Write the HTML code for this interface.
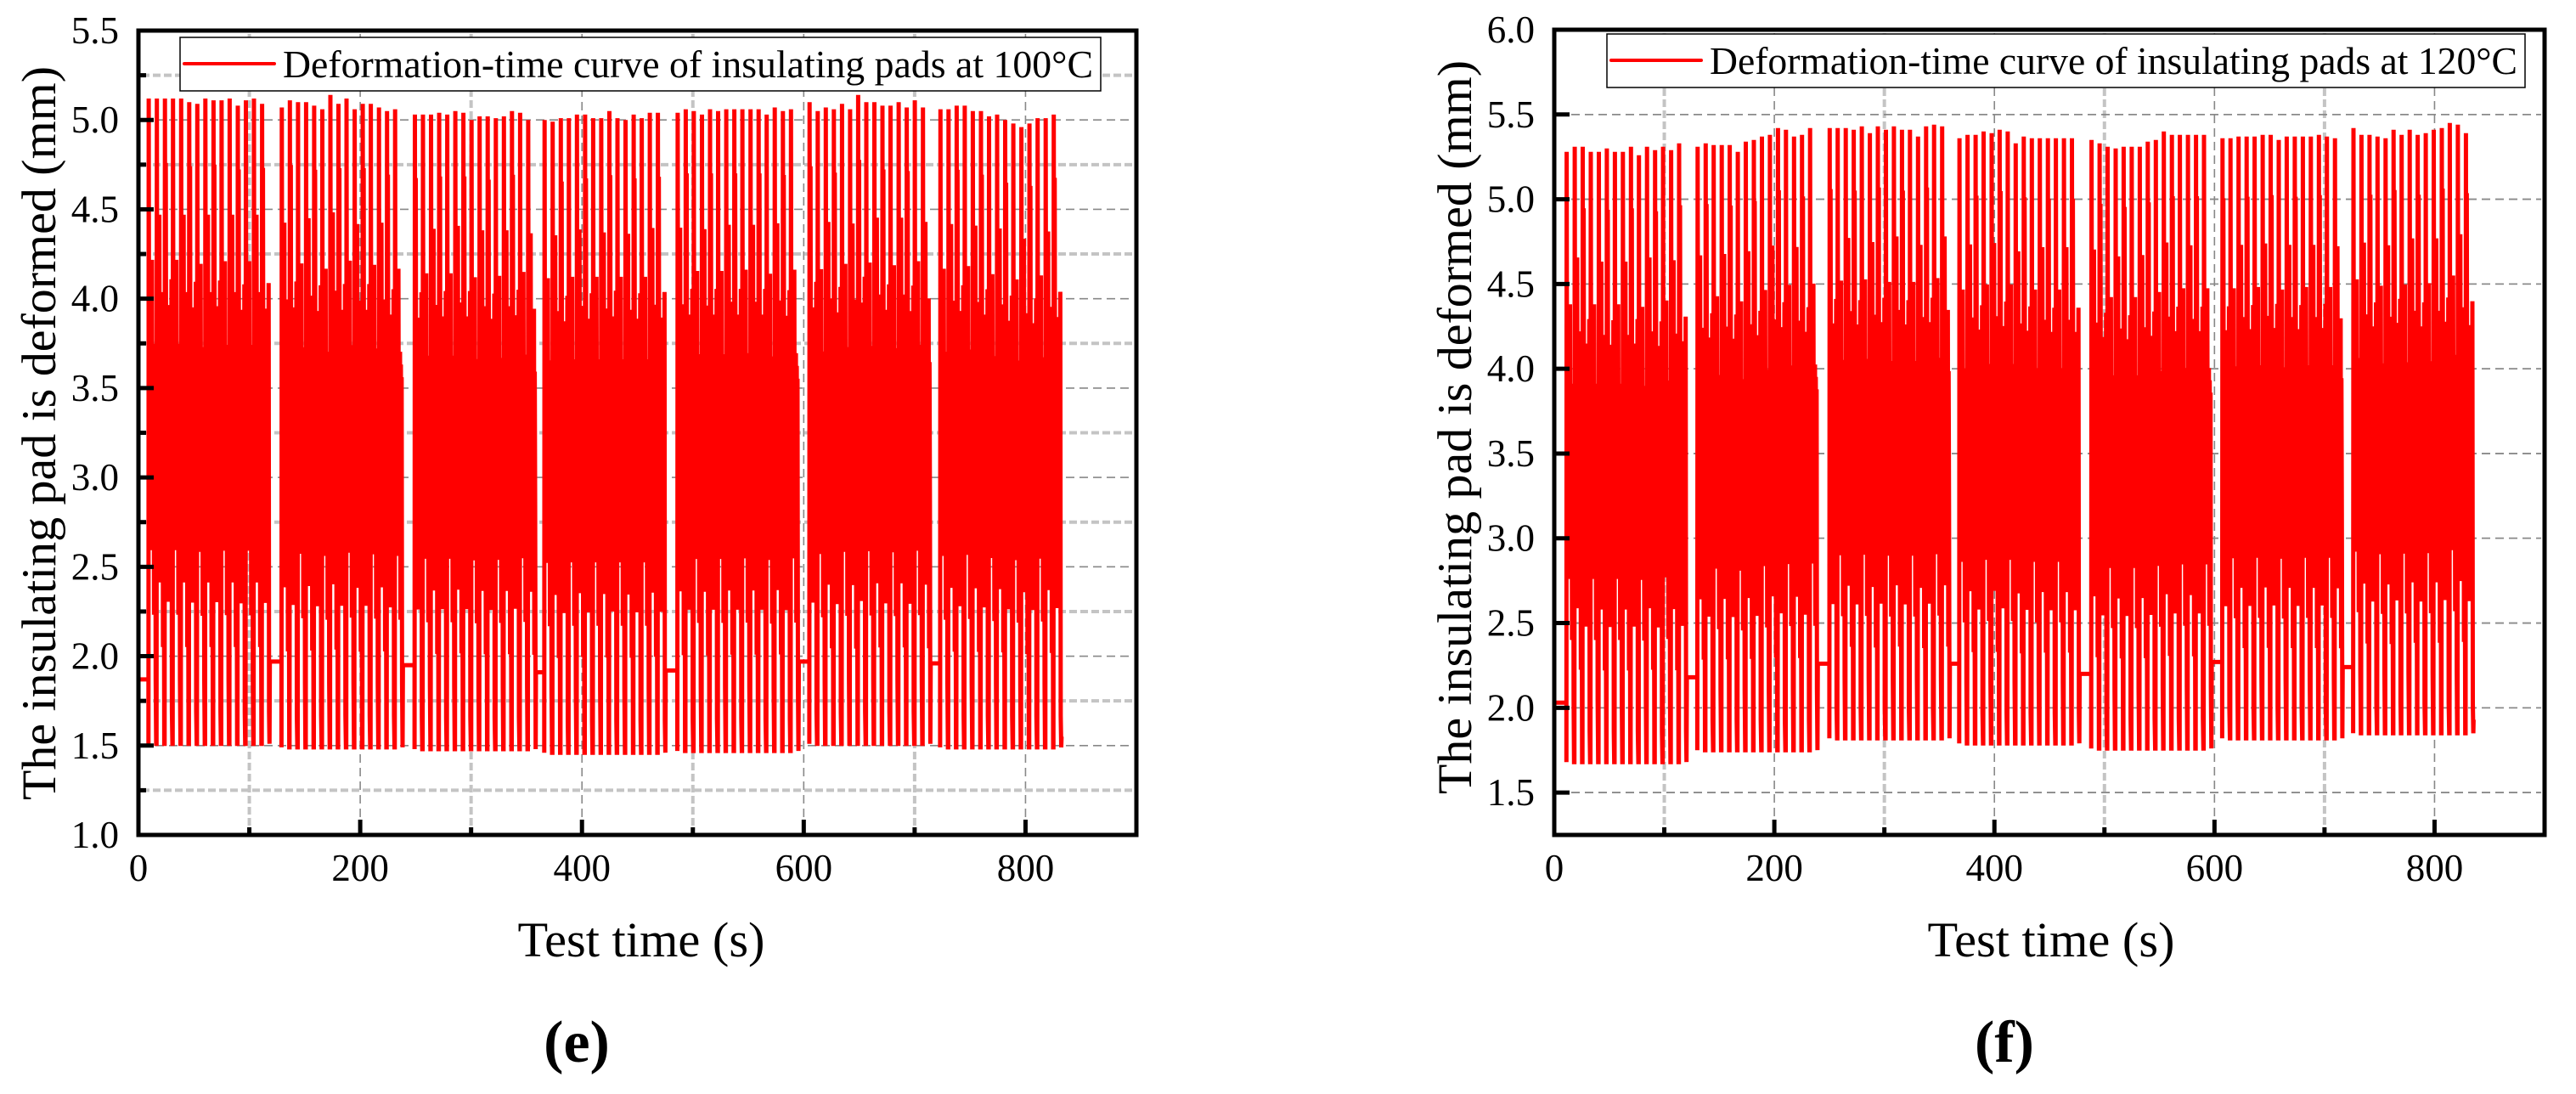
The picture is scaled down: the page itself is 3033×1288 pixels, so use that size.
<!DOCTYPE html>
<html><head><meta charset="utf-8">
<style>
html,body{margin:0;padding:0;background:#fff;}
svg{display:block;font-family:"Liberation Serif","Times New Roman",serif;}
text{font-family:"Liberation Serif","Times New Roman",serif;fill:#000;}
</style></head>
<body>
<svg id="fig" width="3033" height="1288" viewBox="0 0 3033 1288" xmlns="http://www.w3.org/2000/svg" font-family="Liberation Serif, serif">
<g id="chartE"></g>
<g id="chartF"></g>
</svg>
<script>
// ---------- Chart (e) data: 100°C ----------
const eBlockStarts = [9, 129, 249, 366, 486, 605, 723];
const eFlatLevels = [1.87, 1.97, 1.95, 1.91, 1.92, 1.97, 1.96];
const eTroughs = [1.51, 1.49, 1.48, 1.46, 1.47, 1.51, 1.49];
const eEndValue = 1.55;
const ePeaks1 = [5.12,5.12,5.12,5.12,5.12,5.10,5.09,5.12,5.11,5.11,5.12,5.08,5.11,5.12,5.09];
const ePeaks2 = [5.07,5.11,5.10,5.10,5.08,5.06,5.14,5.09,5.12,5.06,5.09,5.09,5.07,5.05,5.06];
const ePeaks3 = [5.03,5.03,5.03,5.04,5.03,5.05,5.04,5.00,5.02,5.02,5.01,5.02,5.05,5.04,5.00];
const ePeaks4 = [5.00,4.99,5.01,5.01,5.03,5.03,5.01,5.01,5.05,5.01,5.00,5.03,5.01,5.04,5.04];
const ePeaks5 = [5.04,5.06,5.05,5.03,5.06,5.05,5.06,5.06,5.06,5.06,5.06,5.03,5.07,5.05,5.06];
const ePeaks6 = [5.10,5.05,5.07,5.06,5.09,5.06,5.14,5.10,5.10,5.08,5.08,5.10,5.07,5.11,5.07];
const ePeaks7 = [5.06,5.06,5.08,5.08,5.05,5.05,5.02,5.03,5.00,4.98,4.96,4.98,5.01,5.01,5.03];
const eYTicks = ["1.0","1.5","2.0","2.5","3.0","3.5","4.0","4.5","5.0","5.5"];
// ---------- Chart (f) data: 120°C ----------
const fBlockStarts = [11, 130, 250, 368, 488, 607, 726];
const fFlatLevels = [2.03, 2.18, 2.26, 2.26, 2.20, 2.27, 2.24];
const fTroughs = [1.68, 1.75, 1.82, 1.79, 1.76, 1.82, 1.85];
const fEndValue = 1.93;
const fPeaks1 = [5.28,5.31,5.31,5.28,5.28,5.30,5.28,5.28,5.31,5.26,5.31,5.29,5.31,5.29,5.33];
const fPeaks2 = [5.31,5.33,5.32,5.32,5.32,5.28,5.34,5.35,5.37,5.38,5.42,5.41,5.37,5.38,5.42];
const fPeaks3 = [5.42,5.42,5.42,5.41,5.43,5.39,5.43,5.41,5.43,5.41,5.41,5.37,5.43,5.44,5.43];
const fPeaks4 = [5.36,5.38,5.38,5.40,5.39,5.41,5.40,5.33,5.37,5.36,5.36,5.36,5.36,5.36,5.36];
const fPeaks5 = [5.35,5.33,5.31,5.30,5.31,5.31,5.31,5.34,5.35,5.40,5.38,5.38,5.38,5.38,5.38];
const fPeaks6 = [5.36,5.36,5.37,5.37,5.37,5.38,5.38,5.35,5.37,5.37,5.37,5.37,5.38,5.37,5.36];
const fPeaks7 = [5.42,5.38,5.38,5.37,5.36,5.41,5.38,5.41,5.38,5.39,5.41,5.42,5.45,5.44,5.39];
const fYTicks = ["1.5","2.0","2.5","3.0","3.5","4.0","4.5","5.0","5.5","6.0"];
const xTicks = ["0","200","400","600","800"];
const cyclePeriod = 7.3;
// within-cycle waveforms (rotate per cycle): [time fraction, level fraction between trough and peak]
const cycleShapeA = [[0,0],[0.04,1],[0.1,0.38],[0.15,0.62],[0.2,0.4],[0.25,0.6],[0.3,0.42],[0.35,0.62],[0.4,0.3],[0.45,0.75],[0.5,0.39],[0.55,0.6],[0.6,0.4],[0.65,0.62],[0.7,0.2],[0.75,0.6],[0.8,0.41],[0.85,0.58],[0.9,0.1],[0.96,0]];
const cycleShapeB = [[0,0],[0.04,1],[0.1,0.42],[0.15,0.66],[0.2,0.36],[0.25,0.58],[0.3,0.25],[0.35,0.82],[0.4,0.44],[0.45,0.6],[0.5,0.4],[0.55,0.64],[0.6,0.33],[0.65,0.57],[0.7,0.43],[0.75,0.7],[0.8,0.15],[0.85,0.6],[0.9,0.38],[0.96,0]];
const cycleShapeC = [[0,0],[0.04,1],[0.1,0.35],[0.15,0.9],[0.2,0.43],[0.25,0.63],[0.3,0.38],[0.35,0.58],[0.4,0.41],[0.45,0.65],[0.5,0.22],[0.55,0.6],[0.6,0.44],[0.65,0.68],[0.7,0.37],[0.75,0.56],[0.8,0.3],[0.85,0.72],[0.9,0.05],[0.96,0]];

const NS = "http://www.w3.org/2000/svg";
const FONT = '"Liberation Serif", serif';
function mk(parent, tag, attrs, txt){
  const el = document.createElementNS(NS, tag);
  for (const k in attrs) el.setAttribute(k, attrs[k]);
  if (tag === 'text') el.setAttribute('font-family', FONT);
  if (txt !== undefined) el.textContent = txt;
  parent.appendChild(el);
  return el;
}

function drawChart(g, cfg){
  const L=cfg.left, R=cfg.right, T=cfg.top, B=cfg.bottom;
  const X = t => L + (t - cfg.xmin)/(cfg.xmax - cfg.xmin)*(R-L);
  const Y = v => B - (v - cfg.ymin)/(cfg.ymax - cfg.ymin)*(B-T);
  const shapes = [cycleShapeA, cycleShapeB, cycleShapeC];
  const grid = mk(g,'g',{});
  
  
  for (let t=100; t<cfg.xmax; t+=200){
    const l = mk(grid,'line',{x1:X(t),x2:X(t),y1:T+4,y2:B-4,stroke:'#c4c4c4','stroke-width':4,'stroke-dasharray':'9 4'});
    
    
  }
  for (let i=1;i<xTicks.length;i++){
    const t = +xTicks[i];
    const l = mk(grid,'line',{x1:X(t),x2:X(t),y1:T+4,y2:B-4,stroke:'#888','stroke-width':1.6,'stroke-dasharray':'10 6'});
    
    
  }
  for (let v=cfg.ymin+0.25; v<cfg.ymax-0.01; v+=0.5){
    const isMajor = Math.abs(v*2-Math.round(v*2))<0.01;
    const l = mk(grid,'line',{x1:L+4,x2:R-4,y1:Y(v),y2:Y(v),stroke:isMajor?'#888':'#c4c4c4','stroke-width':isMajor?1.6:4,'stroke-dasharray':isMajor?'10 6':'9 4'});
    
    
  }
  cfg.yTicks.forEach(s=>{
    const v=+s; if (v<=cfg.ymin+0.01 || v>=cfg.ymax-0.01) return;
    const l = mk(grid,'line',{x1:L+4,x2:R-4,y1:Y(v),y2:Y(v),stroke:'#888','stroke-width':1.6,'stroke-dasharray':'10 6'});
    
    
  });
  const pts = [];
  pts.push([cfg.xmin, cfg.flats[0]]);
  cfg.starts.forEach((s,bi)=>{
    pts.push([s, cfg.flats[bi]]);
    const peaks = cfg.peaks[bi];
    peaks.forEach((p,ci)=>{
      const c0 = s + ci*cyclePeriod;
      shapes[(ci+bi)%3].forEach(([tf,lf])=>{
        pts.push([c0 + tf*cyclePeriod, cfg.troughs[bi] + lf*(p - cfg.troughs[bi])]);
      });
    });
    const endT = s + peaks.length*cyclePeriod;
    if (bi < cfg.starts.length-1){
      pts.push([endT, cfg.flats[bi+1]]);
    } else {
      pts.push([endT, cfg.endValue]);
    }
  });
  const d = pts.map((p,i)=>(i?'L':'M')+X(p[0]).toFixed(1)+' '+Y(p[1]).toFixed(1)).join(' ');
  const line = mk(g,'path',{d:d,fill:'none',stroke:'#ff0000','stroke-width':5,'stroke-linejoin':'miter','stroke-miterlimit':2});
  
  
  const frame = mk(g,'rect',{x:L,y:T,width:R-L,height:B-T,fill:'none',stroke:'#000','stroke-width':5});
  
  
  xTicks.forEach(s=>{
    const t=+s;
    const tk = mk(g,'line',{x1:X(t),x2:X(t),y1:B,y2:B-18,stroke:'#000','stroke-width':5});
    
    
    const lb = mk(g,'text',{x:X(t),y:1037,'text-anchor':'middle','font-size':45},s);
    
    
  });
  for (let t=100;t<cfg.xmax;t+=200){
    const tk = mk(g,'line',{x1:X(t),x2:X(t),y1:B,y2:B-9,stroke:'#000','stroke-width':5});
    
    
  }
  cfg.yTicks.forEach(s=>{
    const v=+s;
    const tk = mk(g,'line',{x1:L,x2:L+18,y1:Y(v),y2:Y(v),stroke:'#000','stroke-width':5});
    
    
    const lb = mk(g,'text',{x:L-23,y:Y(v)+15,'text-anchor':'end','font-size':45},s);
    
    
  });
  for (let v=cfg.ymin+0.25; v<cfg.ymax; v+=0.5){
    if (Math.abs(v*2-Math.round(v*2))<0.01) continue;
    const tk = mk(g,'line',{x1:L,x2:L+9,y1:Y(v),y2:Y(v),stroke:'#000','stroke-width':5});
    
    
  }
  const lg = mk(g,'g',{});
  
  
  mk(lg,'rect',{x:cfg.lgX,y:cfg.lgY,width:cfg.lgW,height:63,fill:'#fff',stroke:'#000','stroke-width':1.5});
  const ll = mk(lg,'line',{x1:cfg.lgX+5,x2:cfg.lgX+111,y1:cfg.lgY+31,y2:cfg.lgY+31,stroke:'#ff0000','stroke-width':4,'stroke-linecap':'round'});
  
  
  const lt = mk(lg,'text',{x:cfg.lgX+121,y:cfg.lgY+47,'font-size':45,textLength:cfg.lgTextW,lengthAdjust:'spacingAndGlyphs'},cfg.legend);
  
  
  const yt = mk(g,'text',{x:0,y:0,'font-size':57,'text-anchor':'middle',textLength:864,lengthAdjust:'spacingAndGlyphs',transform:`translate(${cfg.ytX},${cfg.ytY}) rotate(-90)`},'The insulating pad is deformed (mm)');
  
  
  const xt = mk(g,'text',{x:cfg.xtX,y:1126,'font-size':58,'text-anchor':'middle',textLength:291,lengthAdjust:'spacingAndGlyphs'},'Test time (s)');
  
  
  const pl = mk(g,'text',{x:cfg.plX,y:1250,'font-size':70,'font-weight':'bold','text-anchor':'middle'},cfg.panel);
  
  
}

drawChart(document.getElementById('chartE'),{
  left:163,right:1338,top:36,bottom:983,xmin:0,xmax:900,ymin:1.0,ymax:5.5,
  yTicks:eYTicks,starts:eBlockStarts,flats:eFlatLevels,troughs:eTroughs,endValue:eEndValue,
  peaks:[ePeaks1,ePeaks2,ePeaks3,ePeaks4,ePeaks5,ePeaks6,ePeaks7],
  lgX:212,lgY:44,lgW:1084,lgTextW:954,legend:'Deformation-time curve of insulating pads at 100\u00B0C',
  ytX:65,ytY:510,xtX:755,plX:679,panel:'(e)'
});
drawChart(document.getElementById('chartF'),{
  left:1830,right:2996,top:35,bottom:983,xmin:0,xmax:900,ymin:1.25,ymax:6.0,
  yTicks:fYTicks,starts:fBlockStarts,flats:fFlatLevels,troughs:fTroughs,endValue:fEndValue,
  peaks:[fPeaks1,fPeaks2,fPeaks3,fPeaks4,fPeaks5,fPeaks6,fPeaks7],
  lgX:1892,lgY:40,lgW:1081,lgTextW:951,legend:'Deformation-time curve of insulating pads at 120\u00B0C',
  ytX:1732,ytY:503,xtX:2415,plX:2360,panel:'(f)'
});
</script>
</body></html>
